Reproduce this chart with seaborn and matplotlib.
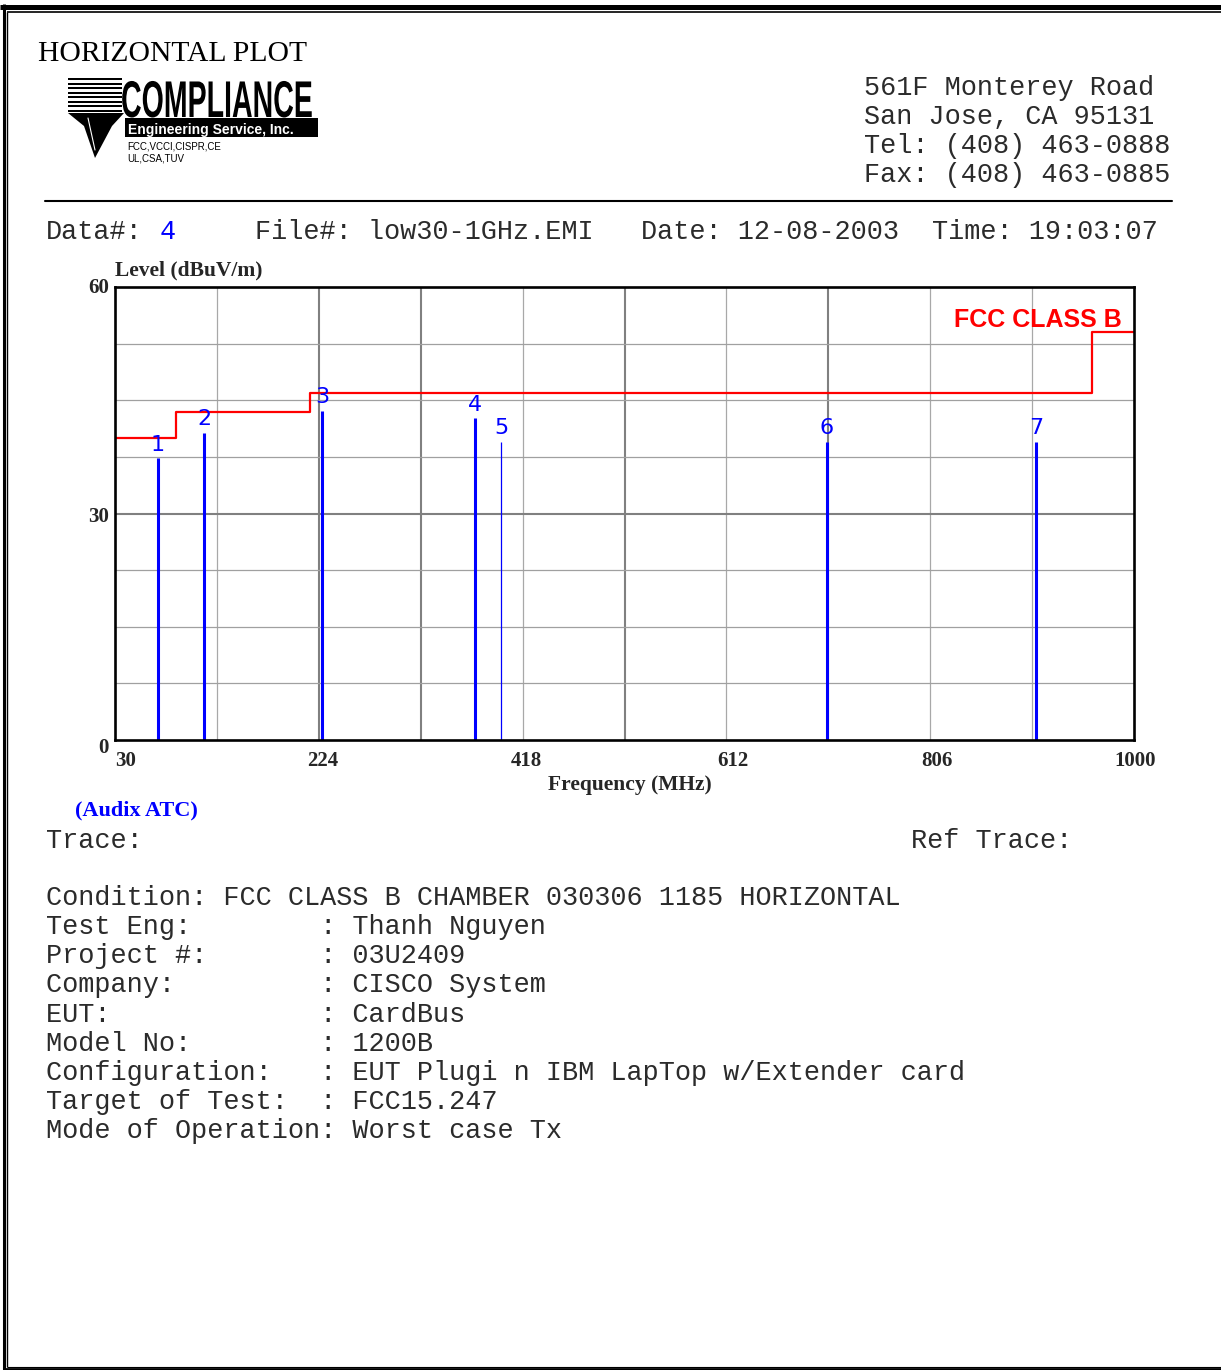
import matplotlib
matplotlib.use("Agg")
import numpy as np
import pandas as pd
import seaborn as sns
import matplotlib.pyplot as plt
import matplotlib.patheffects as pe
from matplotlib.transforms import Affine2D, offset_copy
from matplotlib.patches import Rectangle, Polygon

# ---------------- data ----------------
limit_freq = [30, 88, 216, 960, 1000]
limit_level = [40.0, 43.5, 46.0, 54.0, 54.0]
limit_name = "FCC CLASS B"

peak_ids = [1, 2, 3, 4, 5, 6, 7]
peak_freq = [70.9, 114.7, 227.0, 372.7, 397.4, 707.8, 906.7]
peak_level = [37.3, 40.7, 43.6, 42.6, 39.5, 39.5, 39.5]

x_ticks = [30, 224, 418, 612, 806, 1000]
y_ticks = [0, 30, 60]
x_grid = [127, 224, 321, 418, 515, 612, 709, 806, 903]
y_grid = [7.5, 15, 22.5, 30, 37.5, 45, 52.5]

title_text = "HORIZONTAL PLOT"
address = ["561F Monterey Road", "San Jose, CA 95131",
           "Tel: (408) 463-0888", "Fax: (408) 463-0885"]
data_no = "4"
file_no = "low30-1GHz.EMI"
date_str = "12-08-2003"
time_str = "19:03:07"
antenna = "(Audix ATC)"
condition = "FCC CLASS B CHAMBER 030306 1185 HORIZONTAL"
info_labels = ["Test Eng:", "Project #:", "Company:", "EUT:", "Model No:",
               "Configuration:", "Target of Test:", "Mode of Operation"]
info_values = ["Thanh Nguyen", "03U2409", "CISCO System", "CardBus", "1200B",
               "EUT Plugi n IBM LapTop w/Extender card", "FCC15.247",
               "Worst case Tx"]

# ---------------- styles ----------------
thin_ids = {5}
dark_x_grid = {224, 321, 515, 709}
dark_y_grid = {30}
BLUE = "#0000ff"
RED = "#ff0000"
TXT = "#2b2b2b"

sns.set_theme(style="white")
plt.rcParams["font.family"] = ["Liberation Sans", "DejaVu Sans"]
MONO = "Liberation Mono"
SERIF = "Liberation Serif"
SANS = "Liberation Sans"
MS = 19.4  # monospace font size


class Stretch(pe.AbstractPathEffect):
    """Scale glyph outlines about the text origin (condensed, tall logo lettering)."""
    def __init__(self, sx, sy):
        super().__init__()
        self.sx, self.sy = sx, sy

    def draw_path(self, renderer, gc, tpath, affine, rgbFace=None):
        renderer.draw_path(gc, tpath, Affine2D().scale(self.sx, self.sy) + affine, rgbFace)


W, H = 1221, 1370
fig = plt.figure(figsize=(W / 100, H / 100), dpi=100)
fig.patch.set_facecolor("white")

# page overlay in pixel coordinates
pg = fig.add_axes([0, 0, 1, 1], zorder=0)
pg.set_xlim(0, W)
pg.set_ylim(H, 0)
pg.axis("off")

# page border
pg.plot([0, W], [6.5, 6.5], color="black", lw=3.6, solid_capstyle="butt", clip_on=False)
pg.plot([6.5, W], [11.8, 11.8], color="black", lw=1.2, solid_capstyle="butt", clip_on=False)
pg.plot([3.7, 3.7], [4, H], color="black", lw=2.2, solid_capstyle="butt", clip_on=False)
pg.plot([6.5, 6.5], [11.5, 1366.5], color="black", lw=1.0, solid_capstyle="butt", clip_on=False)
pg.plot([3, W], [1369.3, 1369.3], color="black", lw=2.0, solid_capstyle="butt", clip_on=False)
pg.plot([6.5, W], [1366.8, 1366.8], color="black", lw=0.8, solid_capstyle="butt", clip_on=False)

# title
pg.text(38, 61, title_text, fontfamily=SERIF, fontsize=21.3, color="black",
        ha="left", va="baseline")

# logo
for k in range(8):
    pg.add_patch(Rectangle((68, 78 + 4.5 * k), 54, 2.4, color="black", lw=0))
pg.add_patch(Polygon([(68, 113), (124, 113), (112, 126), (95, 158), (84, 126)],
                     closed=True, color="black", lw=0))
pg.plot([88, 95], [118, 150], color="white", lw=0.8)
pg.text(121, 117, "COMPLIANCE", fontfamily=SANS, fontweight="bold", fontsize=22,
        color="black", ha="left", va="baseline", path_effects=[Stretch(0.934, 1.69)])
pg.add_patch(Rectangle((125, 118), 193, 19, color="black", lw=0))
pg.text(128, 134, "Engineering Service, Inc.", fontfamily=SANS, fontweight="bold",
        fontsize=10, color="white", ha="left", va="baseline")
pg.text(127, 146, "FCC,VCCI,CISPR,CE", fontfamily=SANS, fontsize=7, color="black",
        ha="left", va="center")
pg.text(127, 158, "UL,CSA,TUV", fontfamily=SANS, fontsize=7, color="black",
        ha="left", va="center")

# address
for i, line in enumerate(address):
    pg.text(864, 95 + 29 * i, line, fontfamily=MONO, fontsize=MS, color=TXT,
            ha="left", va="baseline")

# rule
pg.plot([45, 1172], [201, 201], color="black", lw=1.5)

# header line
cw = 16.17
y0 = 239
pg.text(46, y0, "Data#:", fontfamily=MONO, fontsize=MS, color=TXT, va="baseline")
pg.text(46 + 7 * cw, y0, data_no, fontfamily=MONO, fontsize=MS, color=BLUE, va="baseline")
pg.text(255, y0, "File#: " + file_no, fontfamily=MONO, fontsize=MS, color=TXT, va="baseline")
pg.text(641, y0, "Date: " + date_str, fontfamily=MONO, fontsize=MS, color=TXT, va="baseline")
pg.text(932, y0, "Time: " + time_str, fontfamily=MONO, fontsize=MS, color=TXT, va="baseline")

# antenna / trace
pg.text(75, 810, antenna, fontfamily=SERIF, fontweight="bold", fontsize=16,
        color=BLUE, ha="left", va="center")
pg.text(46, 848, "Trace:", fontfamily=MONO, fontsize=MS, color=TXT, va="baseline")
pg.text(911, 848, "Ref Trace:", fontfamily=MONO, fontsize=MS, color=TXT, va="baseline")

# condition block
pg.text(46, 905, "Condition: " + condition, fontfamily=MONO, fontsize=MS,
        color=TXT, va="baseline")
for i, (lab, val) in enumerate(zip(info_labels, info_values)):
    pg.text(46, 905 + 29.15 * (i + 1), f"{lab:<17}: {val}", fontfamily=MONO,
            fontsize=MS, color=TXT, va="baseline")

# ---------------- chart ----------------
ax = fig.add_axes([115 / W, 1 - 740 / H, 1019 / W, 453 / H], zorder=2)
ax.set_facecolor("white")

for xg in x_grid:
    dark = xg in dark_x_grid
    ax.axvline(xg, color="#808080" if dark else "#a8a8a8", lw=1.5 if dark else 0.9, zorder=1)
for yg in y_grid:
    dark = yg in dark_y_grid
    ax.axhline(yg, color="#808080" if dark else "#a0a0a0", lw=1.5 if dark else 0.9, zorder=1)

sns.lineplot(x=limit_freq, y=limit_level, ax=ax, color=RED, linewidth=1.6,
             drawstyle="steps-post", estimator=None, zorder=3)

lws = [0.9 if pid in thin_ids else 2.2 for pid in peak_ids]
ax.vlines(peak_freq, 0, peak_level, colors=BLUE, linewidths=lws, zorder=4)
for pid, f, lv in zip(peak_ids, peak_freq, peak_level):
    ax.annotate(str(pid), xy=(f, lv), xytext=(0, 5.5), textcoords="offset points",
                ha="center", va="baseline", color=BLUE, fontsize=16,
                fontfamily="DejaVu Sans", zorder=5)

ax.text(0.988, 0.912, limit_name, transform=ax.transAxes, ha="right", va="baseline",
        color=RED, fontsize=18, fontweight="bold", fontfamily=SANS, zorder=5)

ax.set_xlim(30, 1000)
ax.set_ylim(0, 60)
ax.set_xticks(x_ticks)
ax.set_yticks(y_ticks)
ax.tick_params(length=0, labelbottom=False, labelleft=False)
for s in ax.spines.values():
    s.set_linewidth(1.9)
    s.set_color("black")
    s.set_zorder(6)

# tick labels
TS = 15
xt_dx = [0, 4, 4, 6, 7, 1]
for t, dx in zip(x_ticks, xt_dx):
    tr = offset_copy(ax.get_xaxis_transform(), fig=fig, x=dx, y=-11.5, units="dots")
    ax.text(t, 0, str(t), transform=tr, ha="left" if t == x_ticks[0] else "center",
            va="top", fontfamily=SERIF, fontweight="bold", fontsize=TS, clip_on=False)
yt_dy = [-8, -3, -1]
for t, dy in zip(y_ticks, yt_dy):
    tr = offset_copy(ax.get_yaxis_transform(), fig=fig, x=-6, y=dy, units="dots")
    ax.text(0, t, str(t), transform=tr, ha="right", va="center",
            fontfamily=SERIF, fontweight="bold", fontsize=TS, clip_on=False)

ax.set_xlabel("Frequency (MHz)", fontfamily=SERIF, fontweight="bold", fontsize=15.5)
ax.xaxis.set_label_coords((630 - 115) / 1019, (740 - 785) / 453)
ax.xaxis.label.set_va("center")
ax.set_ylabel("Level (dBuV/m)", fontfamily=SERIF, fontweight="bold", fontsize=15.5,
              rotation=0, ha="left", va="center")
ax.yaxis.set_label_coords(0.0, (740 - 270) / 453)

fig.savefig("out.png", dpi=100)
